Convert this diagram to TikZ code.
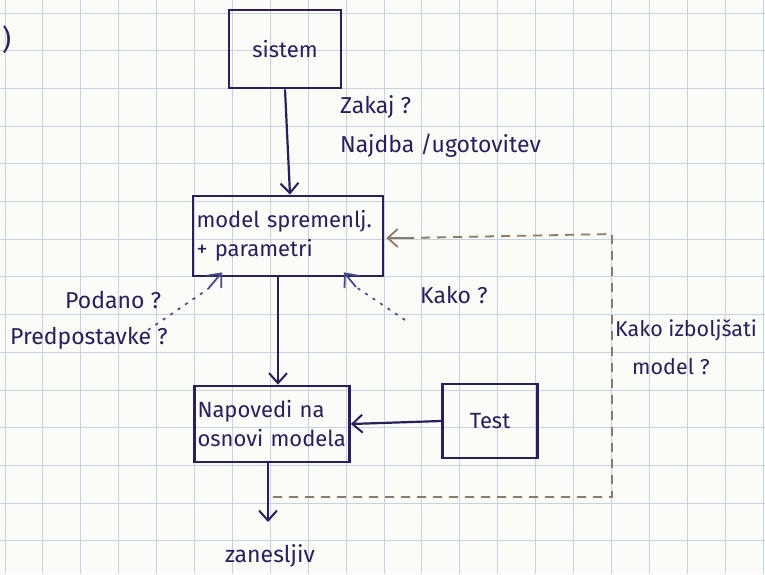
\documentclass[tikz,border=0pt]{standalone}
\usepackage{fontspec}
\setmainfont{Fira Sans}
\usetikzlibrary{arrows.meta}
\definecolor{ink}{HTML}{2A1E5C}
\definecolor{pencil}{HTML}{8C7B6B}
\definecolor{dotink}{HTML}{4A4A8A}
\definecolor{gridc}{HTML}{C4D2E4}
\definecolor{paper}{HTML}{FBFBF8}
\newcommand{\nohyph}{\hyphenpenalty=10000\relax}
\begin{document}
\begin{tikzpicture}[x=1pt,y=-1pt,
  box/.style={draw=ink,line width=2.8pt,text=ink,font=\fontsize{22}{29}\selectfont\nohyph,inner xsep=3pt,inner ysep=4pt},
  lbl/.style={text=ink,font=\fontsize{23}{28}\selectfont,anchor=west,inner sep=0pt},
  arr/.style={draw=ink,line width=2.2pt,-{Straight Barb[length=10pt,width=18pt,line width=2pt]}},
  fb/.style={draw=pencil,line width=1.8pt,dash pattern=on 9pt off 7pt},
  dotarr/.style={draw=dotink,line width=1.7pt,dash pattern=on 3pt off 6pt},
  dothead/.style={draw=dotink,line width=1.8pt,solid,-{Straight Barb[length=11pt,width=19pt,line width=1.8pt]}}
]
\useasboundingbox (0,0) rectangle (765,574);
\fill[paper] (0,0) rectangle (765,574);
% grid paper
\foreach \i in {0,...,20} {\draw[gridc,line width=0.9pt] ({5+37.9*\i},0) -- ({5+37.9*\i},574);}
\foreach \j in {0,...,15} {\draw[gridc,line width=0.9pt] (0,{13+37.7*\j}) -- (765,{13+37.7*\j});}

% boxes
\node[box,minimum width=112pt,minimum height=78pt] (sistem) at (285,49) {sistem};
\node[box,minimum width=190pt,minimum height=80pt,align=left,text width=183pt] (model) at (288,236) {model spremenlj.\\+ parametri};
\node[box,minimum width=155pt,minimum height=76pt,align=left,text width=149pt] (napovedi) at (272,424) {Napovedi na\\osnovi modela};
\node[box,minimum width=95pt,minimum height=74pt] (test) at (490,421) {Test};

% labels
\node[lbl,font=\fontsize{28}{30}\selectfont] (paren) at (2,40) {)};
\node[lbl] (zakaj) at (340,107) {Zakaj ?};
\node[lbl] (najdba) at (340,146) {Najdba /ugotovitev};
\node[lbl] (kako) at (420,295) {Kako ?};
\node[lbl] (podano) at (65,300) {Podano ?};
\node[lbl] (predp) at (10,338) {Predpostavke ?};
\node[lbl,font=\fontsize{21.5}{26}\selectfont] (izb1) at (615,330) {Kako izboljšati};
\node[lbl,font=\fontsize{21.5}{26}\selectfont] (izb2) at (632,367) {model ?};
\node[text=ink,font=\fontsize{23}{28}\selectfont,inner sep=0pt] (zan) at (270,556) {zanesljiv};

% main connectors
\draw[arr] (sistem.south) -- ([xshift=2pt]model.north);
\draw[arr] ([xshift=-10pt]model.south) -- ([xshift=6pt]napovedi.north);
\coordinate (zanarrow) at (268,522);
\draw[arr] ([xshift=-4pt]napovedi.south) -- (zanarrow);
\draw[arr] (test.west) -- (napovedi.east);

% feedback loop
\coordinate (fb1) at (273,497);
\coordinate (fb2) at (612,497);
\coordinate (fb3) at (612,234);
\draw[fb] (fb1) -- (fb2) -- (fb3) -- ([xshift=22pt,yshift=-2pt]model.east);
\draw[draw=pencil,line width=1.8pt,-{Straight Barb[length=10pt,width=18pt,line width=1.8pt]}] ([xshift=24pt,yshift=-2pt]model.east) -- ([xshift=2pt,yshift=-2pt]model.east);

% dotted arrows
\coordinate (kakostart) at (405,320);
\coordinate (kakomid) at (356,287);
\coordinate (predstart) at (148,330);
\coordinate (predmid) at (208,289);
\draw[dotarr] (kakostart) -- (kakomid);
\draw[dothead] (kakomid) -- ([xshift=56pt,yshift=5pt]model.south);
\draw[dotarr] (predstart) -- (predmid);
\draw[dothead] (predmid) -- ([xshift=-66pt,yshift=5pt]model.south);
\end{tikzpicture}
\end{document}
